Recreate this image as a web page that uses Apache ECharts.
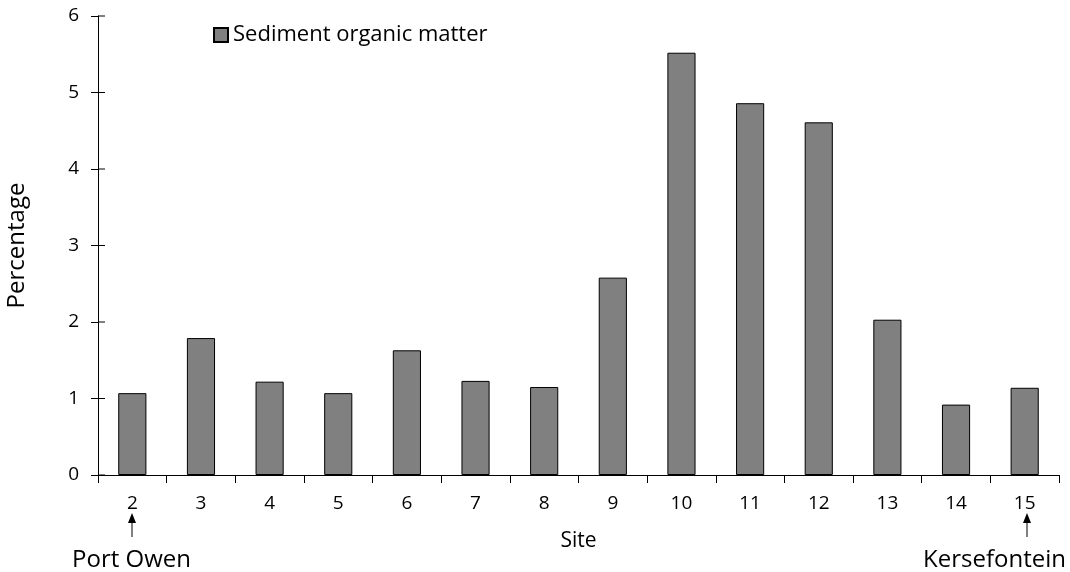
<!DOCTYPE html>
<html>
<head>
<meta charset="utf-8">
<script src="https://cdn.jsdelivr.net/npm/echarts@6/dist/echarts.min.js"></script>
<style>
  html, body { margin: 0; padding: 0; background: #fff; }
  #chart { width: 1070px; height: 572px; }
</style>
</head>
<body>
<div id="chart"></div>
<script>
const sites = ['2', '3', '4', '5', '6', '7', '8', '9', '10', '11', '12', '13', '14', '15']
const organic = [1.07, 1.79, 1.22, 1.07, 1.63, 1.23, 1.15, 2.58, 5.52, 4.86, 4.61, 2.03, 0.92, 1.14]
const yTicks = [0, 1, 2, 3, 4, 5, 6]

const font = '"Open Sans", sans-serif'
const myecharts = echarts.init(document.getElementById('chart'))

// arrow under a site label: small triangle + stem
function arrow(x) {
    return [
        { type: 'polygon', shape: { points: [[x - 4, 523], [x + 4, 523], [x, 513]] }, style: { fill: '#000' } },
        { type: 'line', shape: { x1: x, y1: 522, x2: x, y2: 537 }, style: { stroke: '#000', lineWidth: 1 } }
    ]
}

const option = {
    animation: false,
    grid: { left: 98, right: 11, top: 16, bottom: 97, containLabel: false, outerBoundsMode: 'none' },
    legend: {
        left: 208, top: 19,
        icon: 'rect',
        itemWidth: 14, itemHeight: 14, itemGap: 6,
        textStyle: { fontFamily: font, fontSize: 22, color: '#000' },
        data: ['Sediment organic matter']
    },
    xAxis: {
        type: 'category',
        data: sites,
        name: 'Site',
        nameLocation: 'middle',
        nameGap: 56,
        nameTextStyle: { fontFamily: font, fontSize: 21, color: '#000' },
        axisLine: { lineStyle: { color: '#000', width: 1 } },
        axisTick: { show: true, length: 8, inside: false, lineStyle: { color: '#000' } },
        axisLabel: { fontFamily: font, fontSize: 19, color: '#000', margin: 19 }
    },
    yAxis: {
        type: 'value',
        min: 0, max: 6, interval: 1,
        name: 'Percentage',
        nameLocation: 'middle',
        nameGap: 69,
        nameTextStyle: { fontFamily: font, fontSize: 24, color: '#000' },
        splitLine: { show: false },
        axisLine: { show: true, lineStyle: { color: '#000', width: 1 } },
        axisTick: { show: true, length: 7, lineStyle: { color: '#000' } },
        axisLabel: {
            fontFamily: font, fontSize: 19, color: '#000', margin: 19,
            formatter: v => yTicks.includes(v) ? String(v) : ''
        }
    },
    series: [{
        name: 'Sediment organic matter',
        type: 'bar',
        data: organic,
        barWidth: '41%',
        itemStyle: { color: '#808080', borderColor: '#000', borderWidth: 1 }
    }],
    graphic: [
        // y ticks cross the axis: draw the inner halves
        ...yTicks.map(v => ({
            type: 'line',
            shape: { x1: 98, y1: 475 - v * 76.5, x2: 105, y2: 475 - v * 76.5 },
            style: { stroke: '#000', lineWidth: 1 }
        })),
        ...arrow(132),
        ...arrow(1027),
        { type: 'text', x: 72, y: 560, style: { text: 'Port Owen', font: '24px ' + font, fill: '#000', verticalAlign: 'middle' } },
        { type: 'text', x: 1066, y: 560, style: { text: 'Kersefontein', font: '24px ' + font, fill: '#000', align: 'right', verticalAlign: 'middle' } }
    ]
}
myecharts.setOption(option)
</script>
</body>
</html>
